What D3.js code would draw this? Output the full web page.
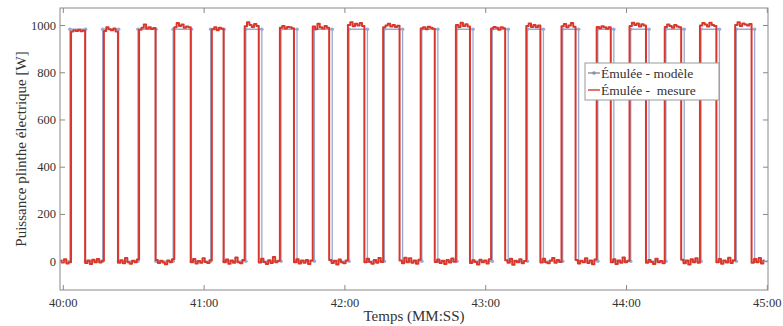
<!DOCTYPE html>
<html>
<head>
<meta charset="utf-8">
<script src="https://cdn.jsdelivr.net/npm/d3@7"></script>
<style>
  html, body { margin: 0; padding: 0; background: #fff; }
  svg { display: block; }
  svg text { font-family: "Liberation Serif", "Times New Roman", serif; }
</style>
</head>
<body>
<svg id="chart" width="783" height="326"></svg>
<script>
// Time origin of the record (seconds), i.e. 40:00
const t0 = 2400;

// Measured power, one sample per second from t0-1 s to t0+300 s [W]
const mesureStart = -1;
const mesure = [
  3, -6, 8, -10, -4,                               // -1..3
  972, 978, 975, 980, 974, 977,                    // 4..9
  -8, 3, -12, 6, -4, 9, -6, 2,                     // 10..17
  975, 990, 982, 978, 985, 972,                    // 18..23
  -7, 4, -9, 14, -4, -11, 2, -5, 7,                // 24..32
  980, 988, 1002, 985, 990, 983, 987,              // 33..39
  5, -8, 2, -6, -13, 3, -4, 8,                     // 40..47
  990, 1008, 996, 1002, 988, 994, 991,             // 48..54
  -5, 9, -10, 1, -7, 12, -3, -8, 4,                // 55..63
  982, 990, 978, 988, 984,                         // 64..68
  -5, 7, -11, 3, -7, 16, -4, -9, 5,                // 69..77
  995, 1012, 1000, 992, 1004, 996,                 // 78..84 (78 low edge below)
  -6, 10, -3, -12, 4, -8, 18, -5, 2,               // 85..93
  988, 996, 985, 992, 990, 986,                    // 94..99
  -4, 8, -10, 3, -7, 5, -12, 3,                    // 100..107
  994, 982, 1005, 990, 985, 996, 988,              // 108..114
  5, -8, 2, -14, 7, -4, -9, 3,                     // 115..122
  1000, 1012, 995, 1005, 998, 1008, 996,           // 123..129
  -5, 10, -3, -11, 5, -7, 14, -3,                  // 130..137
  990, 998, 1005, 994, 1000, 992, 997,             // 138..144
  3, -9, 15, -5, 12, -7, 3, -11, 6,                // 145..153
  985, 990, 982, 993, 988, 984,                    // 154..159
  -3, 7, -8, 2, -12, 5, -6, 11, -2,                // 160..168
  1000, 992, 1010, 996, 1003, 994,                 // 169..174
  -8, 4, -3, -14, 6, -5, 3, -10, 8,                // 175..183
  985, 992, 988, 980, 990, 986,                    // 184..189
  4, -7, 10, -15, 2, -5, 8, -9, 1,                 // 190..198
  996, 1006, 992, 1000, 990, 998,                  // 199..204
  -6, 10, -4, -9, 3, 14, -7, 5, -3,                // 205..213
  995, 1004, 990, 998, 1008, 993,                  // 214..219
  5, -10, 2, -5, 12, -8, 3, -13, 7,                // 220..228
  992, 986, 995, 990, 984, 991,                    // 229..234
  -4, 8, -12, 3, -7, 16, -5, 2,                    // 235..242
  996, 1010, 1000, 1006, 994, 1003, 998,           // 243..249
  -7, 5, -3, -12, 10, -5, 1, -9,                   // 250..257
  992, 1002, 996, 988, 1000, 994, 990,             // 258..264
  6, -9, 3, -14, 8, -4, 12, -7,                    // 265..272
  998, 1008, 1002, 994, 1010, 1000, 996,           // 273..279
  -5, 9, -11, 3, -6, 15, -8, 4,                    // 280..287
  1000, 1012, 996, 1006, 1002, 998, 1004,          // 288..294
  -7, 9, -4, 13, -10, 3                            // 295..300
];

// Emulated model: switching instants (s after 40:00) and power level [W]
const modelOn  = [3.0, 17.0, 32.0, 47.0, 63.0, 78.0, 93.0, 107.2, 122.0, 137.0,
                  153.0, 168.0, 183.0, 198.0, 213.0, 228.0, 242.0, 257.0, 272.0, 287.0];
const modelOff = [9.7, 23.8, 39.7, 54.8, 68.7, 84.8, 99.8, 114.8, 129.8, 144.8,
                  159.8, 174.8, 189.8, 204.8, 219.8, 234.8, 249.8, 264.8, 279.8, 294.8];
const modelHigh = 982;
const modelLow = 0;

const xTickValues = [2400, 2460, 2520, 2580, 2640, 2700];
const yTickValues = [0, 200, 400, 600, 800, 1000];
const seriesNames = ["Émulée - modèle", "Émulée -  mesure"];

// ---------------------------------------------------------------
const serif = "'Liberation Serif', 'Times New Roman', serif";
const svg = d3.select("#chart");
const M = { left: 60, right: 768, top: 8, bottom: 290 };

const x = d3.scaleLinear().domain([2398.8, 2700.5]).range([M.left, M.right]);
const y = d3.scaleLinear().domain([-122, 1072]).range([M.bottom, M.top]);

const fmt = s => {
  const mm = Math.floor(s / 60), ss = Math.round(s % 60);
  return String(mm).padStart(2, "0") + ":" + String(ss).padStart(2, "0");
};

svg.append("defs").append("clipPath").attr("id", "plot")
  .append("rect").attr("x", M.left).attr("y", M.top)
  .attr("width", M.right - M.left).attr("height", M.bottom - M.top);

// Model series as a step trace with markers at every switching corner
const modelPts = [[x.domain()[0], modelLow]];
modelOn.forEach((on, i) => {
  const off = modelOff[i];
  modelPts.push([t0 + on, modelLow], [t0 + on, modelHigh],
                [t0 + off, modelHigh], [t0 + off, modelLow]);
});
modelPts.push([x.domain()[1], modelLow]);

// Measured series
const mesPts = mesure.map((v, i) => [t0 + mesureStart + i, v]);

const modelColor = "#9aa8d4";
const mesColor = "#d8382c";

const plot = svg.append("g").attr("clip-path", "url(#plot)");

plot.append("path")
  .datum(modelPts)
  .attr("fill", "none")
  .attr("stroke", modelColor)
  .attr("stroke-width", 1.3)
  .attr("d", d3.line().x(d => x(d[0])).y(d => y(d[1])));

plot.append("g").selectAll("circle")
  .data(modelPts.slice(1, -1))
  .join("circle")
  .attr("cx", d => x(d[0]))
  .attr("cy", d => y(d[1]))
  .attr("r", 1.8)
  .attr("fill", modelColor);

plot.append("path")
  .datum(mesPts)
  .attr("fill", "none")
  .attr("stroke", mesColor)
  .attr("stroke-width", 2)
  .attr("stroke-linejoin", "round")
  .attr("d", d3.line().curve(d3.curveStep).x(d => x(d[0])).y(d => y(d[1])));

// Axes: box with inward ticks on all four sides
const axisColor = "#8a8a8a";
const tickLen = 5;

const gB = svg.append("g").attr("transform", `translate(0,${M.bottom})`)
  .call(d3.axisBottom(x).tickValues(xTickValues).tickFormat(fmt)
        .tickSizeInner(-tickLen).tickSizeOuter(0).tickPadding(8));
const gT = svg.append("g").attr("transform", `translate(0,${M.top})`)
  .call(d3.axisTop(x).tickValues(xTickValues).tickFormat("")
        .tickSizeInner(-tickLen).tickSizeOuter(0));
const gL = svg.append("g").attr("transform", `translate(${M.left},0)`)
  .call(d3.axisLeft(y).tickValues(yTickValues).tickFormat(d3.format("d"))
        .tickSizeInner(-tickLen).tickSizeOuter(0).tickPadding(4));
const gR = svg.append("g").attr("transform", `translate(${M.right},0)`)
  .call(d3.axisRight(y).tickValues(yTickValues).tickFormat("")
        .tickSizeInner(-tickLen).tickSizeOuter(0));

[gB, gT, gL, gR].forEach(g => {
  g.attr("font-family", serif).attr("font-size", 12.5);
  g.select(".domain").remove();
  g.selectAll(".tick line").attr("stroke", axisColor);
  g.selectAll(".tick text").attr("fill", "#333");
});

svg.append("rect")
  .attr("x", M.left).attr("y", M.top)
  .attr("width", M.right - M.left).attr("height", M.bottom - M.top)
  .attr("fill", "none").attr("stroke", axisColor).attr("stroke-width", 1);

// Axis titles
svg.append("text")
  .attr("x", (M.left + M.right) / 2).attr("y", 321)
  .attr("text-anchor", "middle").attr("fill", "#333")
  .attr("font-family", serif).attr("font-size", 15)
  .text("Temps (MM:SS)");

svg.append("text")
  .attr("transform", `translate(26,${(M.top + M.bottom) / 2}) rotate(-90)`)
  .attr("text-anchor", "middle").attr("fill", "#333")
  .attr("font-family", serif).attr("font-size", 15)
  .text("Puissance plinthe électrique [W]");

// Legend
const lg = svg.append("g").attr("transform", "translate(585,63)");
lg.append("rect").attr("width", 134).attr("height", 37)
  .attr("fill", "#fff").attr("stroke", "#999").attr("stroke-width", 1);

const entries = [
  { name: seriesNames[0], color: "#8a8fa8", marker: true, yy: 10 },
  { name: seriesNames[1], color: mesColor, marker: false, yy: 27 }
];
entries.forEach(e => {
  lg.append("line").attr("x1", 3).attr("x2", 15).attr("y1", e.yy).attr("y2", e.yy)
    .attr("stroke", e.color).attr("stroke-width", 1.4);
  if (e.marker) lg.append("circle").attr("cx", 9).attr("cy", e.yy).attr("r", 1.8).attr("fill", e.color);
  lg.append("text").attr("x", 16).attr("y", e.yy + 4.5)
    .attr("fill", "#333").attr("font-family", serif).attr("font-size", 13.5)
    .style("white-space", "pre")
    .text(e.name);
});
</script>
</body>
</html>
